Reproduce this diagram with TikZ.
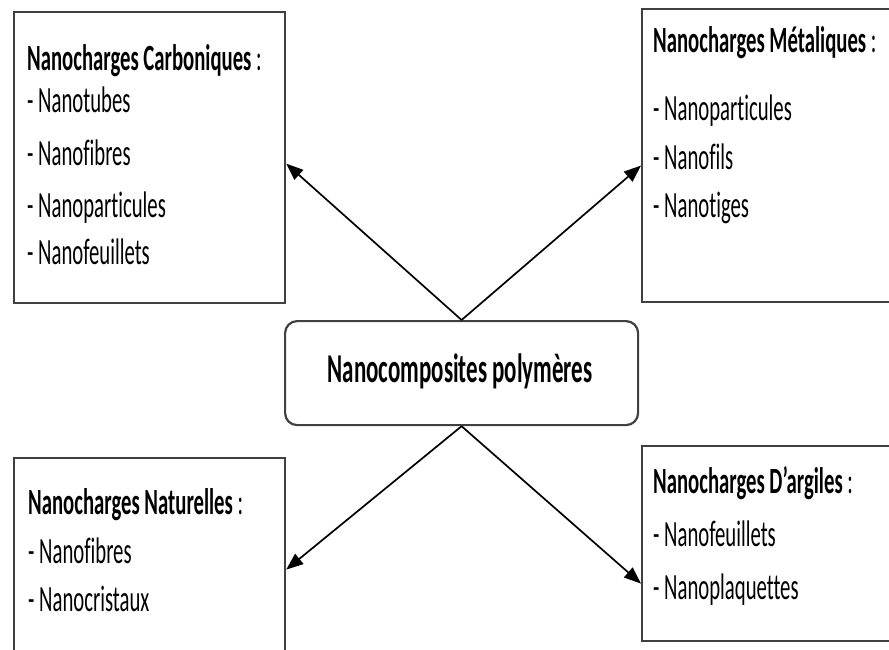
\documentclass[tikz,border=0pt]{standalone}
\usepackage{fontspec}
\setmainfont{Carlito}[FakeStretch=0.56,Ligatures=NoCommon]
\usetikzlibrary{arrows.meta,positioning}
\tikzset{
  boite/.style={draw=black!75,line width=2.2pt,rectangle,inner sep=0pt},
  centre/.style={boite,rounded corners=12pt},
  fleche/.style={line width=1.7pt,-{Triangle[length=17pt,width=13pt]}},
  ligne/.style={anchor=base west,inner sep=0pt,font=\fontsize{37}{44}\selectfont},
}

\begin{document}
\begin{tikzpicture}[x=1pt,y=-1pt]
  \useasboundingbox (0,0) rectangle (889,650);
  \clip (0,0) rectangle (889,650);
  % les quatre familles de nanocharges
  \node[boite,anchor=north west,minimum width=271pt,minimum height=291pt] (carb) at (13,11) {};
  \node[boite,anchor=north west,minimum width=260pt,minimum height=293pt] (met) at (641,8) {};
  \node[boite,anchor=north west,minimum width=271pt,minimum height=203pt] (nat) at (13,457) {};
  \node[boite,anchor=north west,minimum width=260pt,minimum height=195pt] (arg) at (641,445) {};
  \node[centre,anchor=north west,minimum width=353pt,minimum height=104pt] (nano) at (284,320) {};
  \node[anchor=base,inner sep=0pt,font=\fontsize{41}{48}\selectfont\bfseries] (nanoT)
    at (460,382) {Nanocomposites polymères};
  % textes
  \node[ligne] (carbT) at (27,71) {\textbf{Nanocharges Carboniques} :};
  \foreach \y/\t [count=\i] in {113/Nanotubes,165/Nanofibres,217/Nanoparticules,264/Nanofeuillets}
    \node[ligne] (carb-\i) at (27,\y) {- \t};
  \node[ligne] (metT) at (653,53) {\textbf{Nanocharges Métaliques} :};
  \foreach \y/\t [count=\i] in {121/Nanoparticules,169/Nanofils,217/Nanotiges}
    \node[ligne] (met-\i) at (653,\y) {- \t};
  \node[ligne] (natT) at (28,514) {\textbf{Nanocharges Naturelles} :};
  \foreach \y/\t [count=\i] in {563/Nanofibres,611/Nanocristaux}
    \node[ligne] (nat-\i) at (28,\y) {- \t};
  \node[ligne] (argT) at (653,493) {\textbf{Nanocharges D’argiles} :};
  \foreach \y/\t [count=\i] in {546/Nanofeuillets,599/Nanoplaquettes}
    \node[ligne] (arg-\i) at (653,\y) {- \t};
  % fleches
  \draw[fleche] (nano.north) -- ([yshift=-6pt]carb.east);
  \draw[fleche] (nano.north) -- ([yshift=-10pt]met.west);
  \draw[fleche] (nano.south) -- ([yshift=-10pt]nat.east);
  \draw[fleche] (nano.south) -- ([yshift=-40pt]arg.west);
\end{tikzpicture}
\end{document}
